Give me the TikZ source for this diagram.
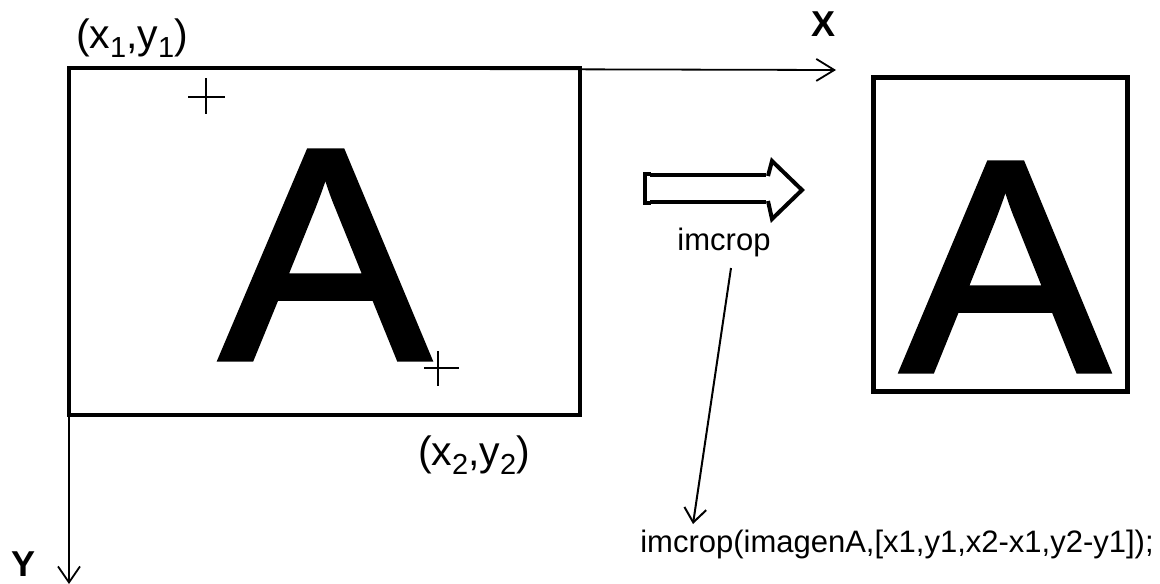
\documentclass[tikz,border=0pt]{standalone}
\usepackage{fontspec}
\setmainfont{Liberation Sans}
\newfontfamily\heavyA[FakeBold=1.8]{Liberation Sans}
\usetikzlibrary{arrows.meta}
\tikzset{
  frame/.style={draw=black,line width=4pt},
  axis/.style={draw=black,line width=1.8pt},
  cross/.style={draw=black,line width=1.4pt},
  coord/.style={inner sep=0pt,font=\fontsize{41}{46}\selectfont},
  axlabel/.style={inner sep=0pt,font=\fontsize{36}{40}\selectfont\bfseries},
  bigA/.style={inner sep=0pt,font=\heavyA\fontsize{302}{310}\selectfont},
  label/.style={inner sep=0pt,font=\fontsize{31}{36}\selectfont},
  code/.style={inner sep=0pt,font=\fontsize{31}{36}\selectfont},
}
\newcommand{\sbs}[1]{\raisebox{-0.22em}{\fontsize{29}{32}\selectfont #1}}
\begin{document}
\begin{tikzpicture}[x=1pt,y=-1pt]
\useasboundingbox (0,0) rectangle (1160,584);
% axes
\coordinate (O) at (69,68);
\coordinate (Xend) at (836,70);
\coordinate (Yend) at (69,584);
\draw[axis,-{Straight Barb[length=18pt,width=22pt,line width=1.8pt]}] (O) -- (Xend);
\draw[axis,-{Straight Barb[length=16pt,width=22pt,line width=1.8pt]}] (O) -- (Yend);
\node[axlabel] (xl) at (823,24) {X};
\node[axlabel] (yl) at (24,564) {Y};
% source image frame
\draw[frame] (69,68) rectangle (580,415);
\node[bigA] (A1) at (325,255) {\scalebox{1.04}[1]{A}};
\draw[cross] (188,97) -- (225,97) (206,78) -- (206,114);
\draw[cross] (424,368) -- (459,368) (438,351) -- (438,386);
\node[coord] (p1) at (132,38) {(x\sbs{1},y\sbs{1})};
\node[coord] (p2) at (474,455) {(x\sbs{2},y\sbs{2})};
% hollow arrow
\draw[line width=4pt] (650,175) -- (766,175) (650,202) -- (766,202);
\draw[line width=4pt] (651,174) -- (645,174) -- (645,203) -- (651,203);
\draw[line width=4pt,line join=miter] (768,176) -- (772,161) -- (802,190) -- (772,219) -- (768,201);
\node[label] (im) at (724,242) {imcrop};
% cropped image
\draw[frame,line width=5pt] (873,77) rectangle (1127,391);
\node[bigA] (A2) at (1005,267) {\scalebox{1.03}[1]{A}};
% code annotation
\node[code] (cmd) at (897,544) {imcrop(imagenA,[x1,y1,x2-x1,y2-y1]);};
\coordinate (ls) at (731,268);
\coordinate (le) at (693,524);
\draw[line width=2pt,-{Straight Barb[length=14pt,width=22pt,line width=2pt]}] (ls) -- (le);
\end{tikzpicture}
\end{document}
